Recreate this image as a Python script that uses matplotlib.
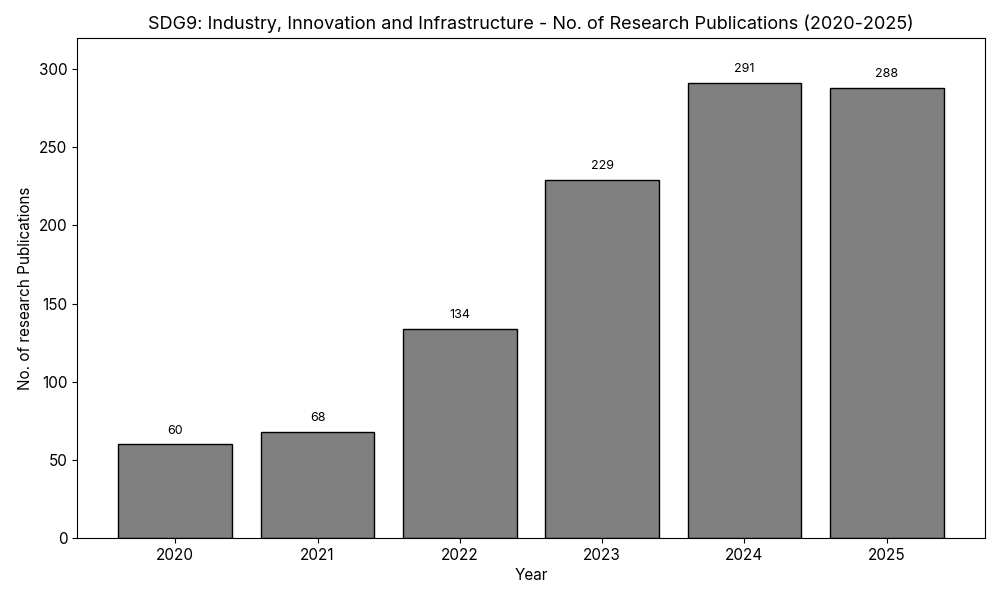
import matplotlib
matplotlib.use("Agg")
import matplotlib.pyplot as plt

years = ["2020", "2021", "2022", "2023", "2024", "2025"]
counts = [60, 68, 134, 229, 291, 288]

plt.rcParams['font.family'] = ['Inter', 'DejaVu Sans']

fig, ax = plt.subplots(figsize=(10, 6), dpi=100)
fig.subplots_adjust(left=0.077, right=0.985, top=0.937, bottom=0.103)

bars = ax.bar(years, counts, width=0.8, color="#808080", edgecolor="black", linewidth=1)
for b, v in zip(bars, counts):
    ax.text(b.get_x() + b.get_width() / 2, v + 5, str(v), ha="center", va="bottom", fontsize=9)

ax.set_ylim(0, 320)
ax.set_xlabel("Year", fontsize=11)
ax.set_ylabel("No. of research Publications", fontsize=11)
ax.set_title("SDG9: Industry, Innovation and Infrastructure - No. of Research Publications (2020-2025)", fontsize=13)
ax.tick_params(labelsize=11)

fig.savefig("out.png", dpi=100)
